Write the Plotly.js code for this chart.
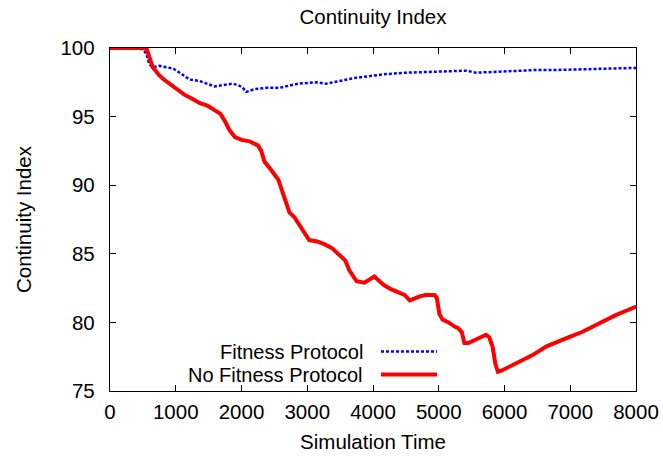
<!DOCTYPE html>
<html>
<head>
<meta charset="utf-8">
<script src="https://cdn.plot.ly/plotly-3.0.1.min.js"></script>
<style>html,body{margin:0;padding:0;background:#fff;}#chart{width:663px;height:457px;}</style>
</head>
<body>
<div id="chart"></div>
<script>
const seriesNames = ["Fitness Protocol", "No Fitness Protocol"];

const fitTime = [0, 200, 400, 500, 550, 600, 650, 750, 856, 960, 1060, 1210, 1360, 1480, 1590, 1720, 1865, 1950, 2020, 2070, 2200, 2380, 2580, 2860, 3140, 3290, 3500, 3700, 3950, 4200, 4505, 4800, 5100, 5420, 5570, 5800, 6125, 6500, 6800, 7140, 7500, 7800, 8000];
const fitValue = [100, 100, 100, 99.9, 99.6, 98.8, 98.6, 98.7, 98.6, 98.5, 98.2, 97.7, 97.6, 97.4, 97.2, 97.3, 97.4, 97.3, 97.1, 96.8, 97.0, 97.1, 97.1, 97.4, 97.5, 97.4, 97.6, 97.8, 97.95, 98.1, 98.2, 98.25, 98.3, 98.35, 98.2, 98.25, 98.35, 98.4, 98.4, 98.45, 98.45, 98.5, 98.55];

const noFitTime = [0, 200, 400, 520, 560, 600, 650, 700, 750, 820, 900, 1000, 1130, 1250, 1360, 1480, 1590, 1680, 1745, 1820, 1900, 2000, 2120, 2250, 2300, 2350, 2420, 2500, 2560, 2610, 2680, 2730, 2800, 2880, 2960, 3030, 3150, 3260, 3380, 3490, 3580, 3640, 3700, 3750, 3870, 3950, 4020, 4100, 4170, 4280, 4400, 4480, 4560, 4640, 4710, 4800, 4860, 4935, 4970, 5010, 5060, 5150, 5240, 5290, 5350, 5390, 5450, 5550, 5640, 5720, 5770, 5820, 5860, 5900, 5960, 6050, 6230, 6420, 6640, 6800, 6990, 7180, 7370, 7550, 7700, 7850, 8000];
const noFitValue = [100, 100, 100, 100, 99.9, 99.3, 98.6, 98.3, 98.0, 97.7, 97.4, 97.1, 96.6, 96.3, 96.0, 95.8, 95.5, 95.2, 94.7, 94.0, 93.5, 93.3, 93.2, 92.9, 92.5, 91.7, 91.3, 90.8, 90.4, 89.7, 88.8, 88.0, 87.7, 87.1, 86.6, 86.0, 85.9, 85.7, 85.4, 84.9, 84.5, 83.8, 83.3, 83.0, 82.9, 83.1, 83.35, 83.0, 82.7, 82.4, 82.2, 82.0, 81.6, 81.8, 81.9, 82.0, 82.0, 82.0, 81.8, 80.6, 80.2, 80.0, 79.7, 79.6, 79.3, 78.5, 78.5, 78.7, 78.9, 79.1, 78.9, 78.2, 77.0, 76.4, 76.5, 76.7, 77.1, 77.6, 78.25, 78.6, 78.95, 79.3, 79.75, 80.25, 80.55, 80.85, 81.15];

const xTicks = [0, 1000, 2000, 3000, 4000, 5000, 6000, 7000, 8000];
const yTicks = [75, 80, 85, 90, 95, 100];

const FS = 20.5;
const LFS = 20;
const font = {family: "Liberation Sans, Arial, sans-serif", size: FS, color: "#000"};

const traces = [
  {x: fitTime, y: fitValue, name: seriesNames[0], type: "scatter", mode: "lines",
   line: {color: "#0000ff", width: 2.5, dash: "3px,2px"}},
  {x: noFitTime, y: noFitValue, name: seriesNames[1], type: "scatter", mode: "lines",
   line: {color: "#ff0000", width: 4}}
];

const L = 110, R = 636, T = 48, B = 391, W = R - L, H = B - T;
const px = v => (v - L) / W;
const py = v => (B - v) / H;
const row1 = 351.5, row2 = 374.5;

const layout = {
  width: 663, height: 457,
  margin: {l: 110, r: 27, t: 48, b: 66},
  paper_bgcolor: "#fff", plot_bgcolor: "#fff",
  font: font,
  showlegend: false,
  title: {text: "Continuity Index", font: {family: font.family, size: FS, color: "#000"}, x: (373) / 663, xanchor: "center", y: 1 - 17 / 457, yanchor: "middle"},
  xaxis: {
    range: [0, 8000], tickvals: xTicks, ticktext: xTicks.map(String),
    ticks: "inside", ticklen: 6, tickcolor: "#000", mirror: "ticks",
    showline: true, linecolor: "#000", linewidth: 1.2, showgrid: false, zeroline: false,
    title: {text: "Simulation Time", font: {size: FS}, standoff: 12},
    tickfont: {size: FS}, ticklabelstandoff: 2
  },
  yaxis: {
    range: [75, 100], tickvals: yTicks, ticktext: yTicks.map(String),
    ticks: "inside", ticklen: 6, tickcolor: "#000", mirror: "ticks",
    showline: true, linecolor: "#000", linewidth: 1.2, showgrid: false, zeroline: false,
    title: {text: "Continuity Index", font: {size: FS}, standoff: 23},
    tickfont: {size: FS}, ticklabelstandoff: 10
  },
  annotations: [
    {xref: "paper", yref: "paper", x: px(365), y: py(row1), text: seriesNames[0], showarrow: false, xanchor: "right", yanchor: "middle", font: {size: LFS}},
    {xref: "paper", yref: "paper", x: px(365), y: py(row2), text: seriesNames[1], showarrow: false, xanchor: "right", yanchor: "middle", font: {size: LFS}}
  ],
  shapes: [
    {type: "line", xref: "paper", yref: "paper", x0: px(381), x1: px(437), y0: py(row1), y1: py(row1), line: {color: "#0000ff", width: 2.5, dash: "3px,2px"}},
    {type: "line", xref: "paper", yref: "paper", x0: px(381), x1: px(437), y0: py(row2), y1: py(row2), line: {color: "#ff0000", width: 4}}
  ]
};

Plotly.newPlot("chart", traces, layout, {displayModeBar: false, staticPlot: true});
</script>
</body>
</html>
